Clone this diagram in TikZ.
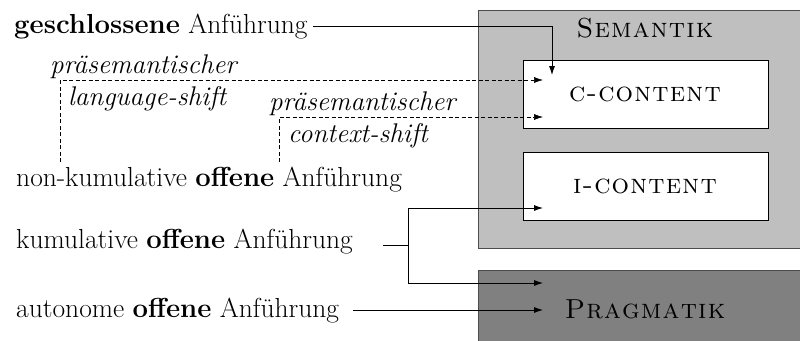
\documentclass[tikz,border=0pt]{standalone}
\usepackage{fontspec}
\usetikzlibrary{arrows.meta}
\definecolor{semgray}{gray}{0.75}
\definecolor{praggray}{gray}{0.5}
\definecolor{framegray}{gray}{0.3}
\newcommand\lsp{\kern1.2pt}
\tikzset{
  lbl/.style={inner sep=0pt, anchor=base west, font=\fontsize{27.5}{32}\selectfont},
  itl/.style={lbl, font=\fontsize{27}{32}\selectfont\itshape},
  arr/.style={-{Latex[length=9pt,width=6pt]}, line width=0.8pt},
  dsh/.style={arr, dash pattern=on 4pt off 2.5pt, line width=0.6pt},
  area/.style={draw=framegray, line width=1pt, anchor=north west, inner sep=0pt},
  inbox/.style={draw=black, fill=white, line width=0.8pt, anchor=north west, inner sep=0pt},
  sclbl/.style={inner sep=0pt, anchor=base, font=\fontsize{27.5}{32}\selectfont\scshape},
}
\begin{document}
\begin{tikzpicture}[x=1pt,y=-1pt]
\useasboundingbox (0,0) rectangle (800,340);
\clip (0,0) rectangle (800,340);
% areas
\node[area, fill=semgray, minimum width=340pt, minimum height=238pt] (sem) at (478,10) {};
\node[area, fill=praggray, minimum width=340pt, minimum height=90pt] (prag) at (478,270) {};
\node[inbox, minimum width=245pt, minimum height=68pt] (cc) at (523,60) {};
\node[inbox, minimum width=245pt, minimum height=68pt] (ic) at (523,152) {};
\node[sclbl] (semL) at (645,37) {S\lsp e\lsp m\lsp a\lsp n\lsp t\lsp i\lsp k};
\node[sclbl] (ccL) at (645,101) {c\lsp -\lsp c\lsp o\lsp n\lsp t\lsp e\lsp n\lsp t};
\node[sclbl] (icL) at (645,193) {i\lsp -\lsp c\lsp o\lsp n\lsp t\lsp e\lsp n\lsp t};
\node[sclbl] (pragL) at (645,318) {P\lsp r\lsp a\lsp g\lsp m\lsp a\lsp t\lsp i\lsp k};
% left texts
\node[lbl] (gA) at (14,33) {\textbf{geschlossene} Anführung};
\node[itl] (ps1) at (50,73) {präsemantischer};
\node[itl] (ls1) at (68,105) {language-shift};
\node[itl] (ps2) at (269,110) {präsemantischer};
\node[itl] (cs2) at (288,142) {context-shift};
\node[lbl] (nk) at (16,186) {non-kumulative \textbf{offene} Anführung};
\node[lbl] (kA) at (16,248) {kumulative \textbf{offene} Anführung};
\node[lbl] (aA) at (16,317) {autonome \textbf{offene} Anführung};
% coordinates
\coordinate (gEnd) at (552,75);
\coordinate (gStart) at (313,26);
\coordinate (lsEnd) at (543,80);
\coordinate (lsStart) at (60,162);
\coordinate (csEnd) at (543,117);
\coordinate (csStart) at (279,162);
\coordinate (kStart) at (383,245);
\coordinate (kFork) at (408,245);
\coordinate (kUp) at (543,208);
\coordinate (kDown) at (543,283);
\coordinate (aStart) at (353,310);
\coordinate (aEnd) at (543,310);
% connectors
\draw[arr] (gStart) -| (gEnd);
\draw[dsh] (lsStart) |- (lsEnd);
\draw[dsh] (csStart) |- (csEnd);
\draw[line width=0.8pt] (kStart) -- (kFork);
\draw[arr] (kFork) |- (kUp);
\draw[arr] (kFork) |- (kDown);
\draw[arr] (aStart) -- (aEnd);
\end{tikzpicture}
\end{document}
